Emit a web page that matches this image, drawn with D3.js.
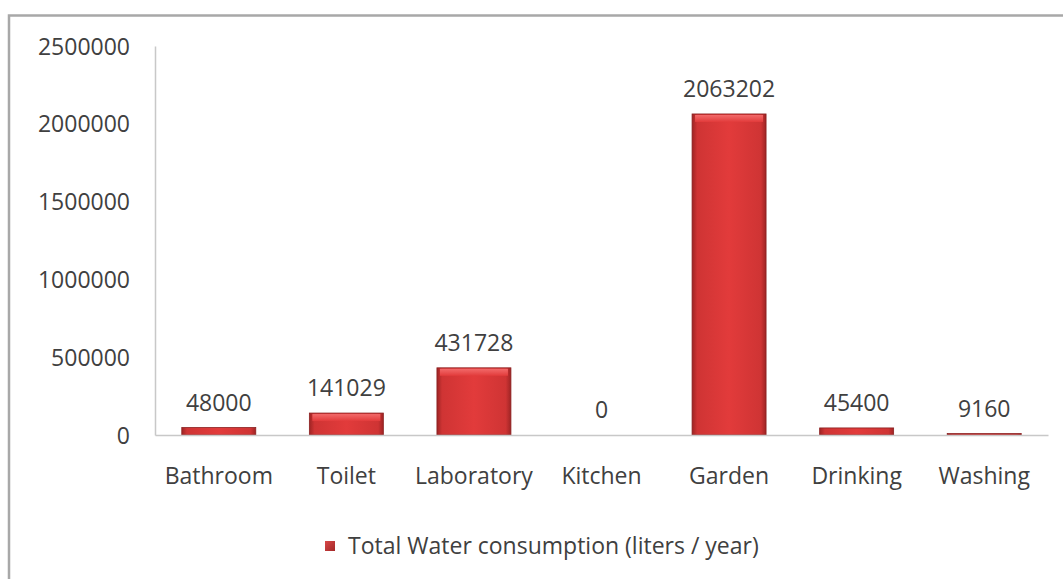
<!DOCTYPE html>
<html>
<head>
<meta charset="utf-8">
<script src="https://cdn.jsdelivr.net/npm/d3@7"></script>
<style>
  html, body { margin: 0; padding: 0; background: #fff; }
  svg { display: block; }
  text { font-family: "Open Sans", Lato, sans-serif; fill: #404040; }
</style>
</head>
<body>
<div id="chart"></div>
<script>
// Annual water use by category (liters / year)
const categories = ["Bathroom", "Toilet", "Laboratory", "Kitchen", "Garden", "Drinking", "Washing"];
const consumption = [48000, 141029, 431728, 0, 2063202, 45400, 9160];
const yTicks = [0, 500000, 1000000, 1500000, 2000000, 2500000];
const seriesName = "Total Water consumption (liters / year)";

const rows = categories.map((c, i) => ({ category: c, value: consumption[i] }));

const W = 1063, H = 579;
const plot = { left: 155, right: 1048, top: 46, bottom: 435 };
const FONT = 23;

const svg = d3.select("#chart").append("svg")
  .attr("width", W).attr("height", H);

const defs = svg.append("defs");
// horizontal shading: dark edges, bright middle
const gH = defs.append("linearGradient").attr("id", "barH").attr("x1", 0).attr("x2", 1).attr("y1", 0).attr("y2", 0);
[[0, "#9e2424"], [0.07, "#cf3434"], [0.5, "#e23b3b"], [0.93, "#cf3434"], [1, "#9e2424"]]
  .forEach(([o, c]) => gH.append("stop").attr("offset", o).attr("stop-color", c));
// top bevel highlight
const gT = defs.append("linearGradient").attr("id", "barTop").attr("x1", 0).attr("x2", 0).attr("y1", 0).attr("y2", 1);
[[0, "#f26a6a"], [1, "#e23b3b"]]
  .forEach(([o, c]) => gT.append("stop").attr("offset", o).attr("stop-color", c));
// legend swatch
const gL = defs.append("linearGradient").attr("id", "legendG").attr("x1", 0).attr("x2", 1).attr("y1", 0).attr("y2", 1);
[[0, "#d84848"], [1, "#a32828"]]
  .forEach(([o, c]) => gL.append("stop").attr("offset", o).attr("stop-color", c));

// chart frame
svg.append("rect")
  .attr("x", 9).attr("y", 15.5).attr("width", W + 20).attr("height", H + 20)
  .attr("fill", "none").attr("stroke", "#a8a8a8").attr("stroke-width", 2.5);

const x = d3.scaleBand().domain(categories).range([plot.left, plot.right]).paddingInner(0.42).paddingOuter(0.21);
const y = d3.scaleLinear().domain([0, 2500000]).range([plot.bottom, plot.top]);

// y axis
const yAxis = svg.append("g").attr("transform", `translate(${plot.left},0)`)
  .call(d3.axisLeft(y).tickValues(yTicks).tickFormat(d3.format("d")).tickSize(0).tickPadding(25));
yAxis.select(".domain").attr("stroke", "#c8c8c8").attr("stroke-width", 1.5);
yAxis.selectAll("text").attr("font-size", FONT).attr("fill", "#404040").attr("dy", "0.35em")
  .style("font-family", "'Open Sans', Lato, sans-serif");

// bars
const bars = svg.append("g").selectAll("g").data(rows).join("g");
bars.append("rect")
  .attr("x", d => x(d.category))
  .attr("y", d => y(d.value))
  .attr("width", x.bandwidth())
  .attr("height", d => y(0) - y(d.value))
  .attr("fill", "url(#barH)")
  .attr("stroke", "#8a2020").attr("stroke-width", d => d.value > 0 ? 0.8 : 0);
bars.filter(d => y(0) - y(d.value) > 10).append("rect")
  .attr("x", d => x(d.category) + 3)
  .attr("y", d => y(d.value) + 1)
  .attr("width", x.bandwidth() - 6)
  .attr("height", 7)
  .attr("fill", "url(#barTop)");

// x axis baseline and category labels
const xAxis = svg.append("g").attr("transform", `translate(0,${plot.bottom})`)
  .call(d3.axisBottom(x).tickSize(0).tickPadding(33));
xAxis.select(".domain").attr("stroke", "#c8c8c8").attr("stroke-width", 1.5);
xAxis.selectAll("text").attr("font-size", FONT).attr("fill", "#404040")
  .style("font-family", "'Open Sans', Lato, sans-serif");

// value labels
svg.append("g").selectAll("text").data(rows).join("text")
  .attr("x", d => x(d.category) + x.bandwidth() / 2)
  .attr("y", d => y(d.value) - 17)
  .attr("text-anchor", "middle")
  .attr("font-size", FONT)
  .text(d => d.value);

// legend
const legend = svg.append("g").attr("transform", "translate(325,541)");
legend.append("rect").attr("width", 10).attr("height", 10).attr("fill", "url(#legendG)");
legend.append("text").attr("x", 23).attr("y", 5).attr("dy", "0.35em")
  .attr("font-size", FONT).text(seriesName);
</script>
</body>
</html>
